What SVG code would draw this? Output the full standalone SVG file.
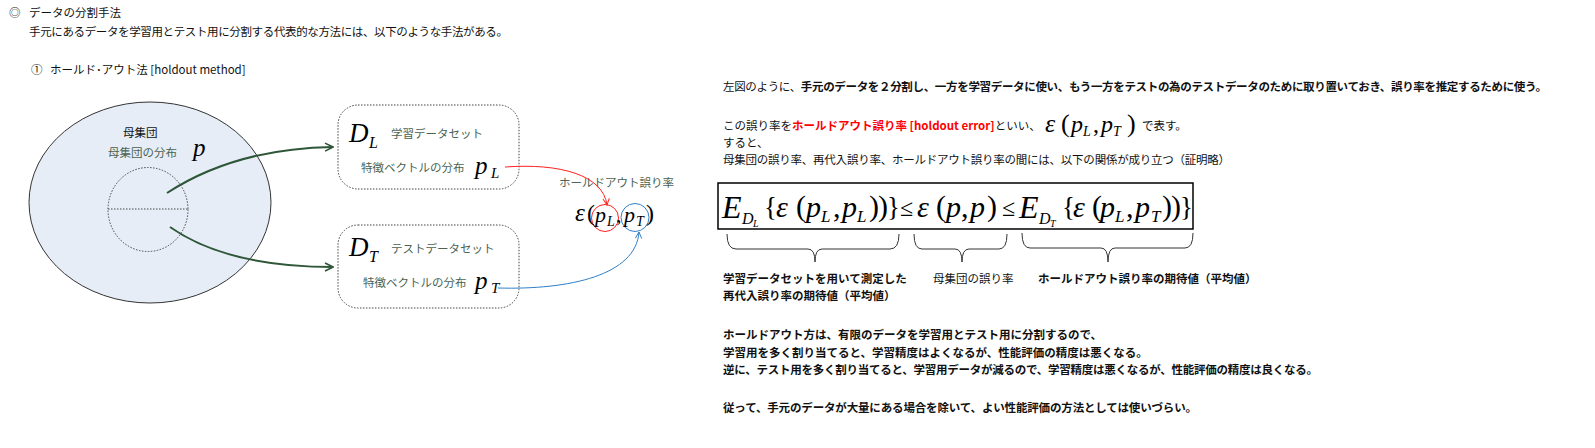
<svg xmlns="http://www.w3.org/2000/svg" width="1595" height="448" viewBox="0 0 1595 448">
<defs>
<style>
.jp{font-family:"Noto Sans CJK JP","Noto Sans",sans-serif;font-size:11.5px;fill:#111}
.b{font-weight:bold}
.g{fill:#4A6352}
.m{font-family:"Liberation Serif",serif;font-style:italic;fill:#000}
.r{font-family:"Liberation Serif",serif;fill:#000}
.dot{fill:none;stroke:#444;stroke-width:1;stroke-dasharray:1.5 1.5}
.br{fill:none;stroke:#333;stroke-width:1}
</style>
<marker id="ag" viewBox="0 0 10 10" refX="9" refY="5" markerWidth="10" markerHeight="10" markerUnits="userSpaceOnUse" orient="auto"><path d="M1,1 L9,5 L1,9" fill="none" stroke="#2E5638" stroke-width="1.6"/></marker>
<marker id="ar" viewBox="0 0 10 10" refX="9" refY="5" markerWidth="8" markerHeight="8" markerUnits="userSpaceOnUse" orient="auto"><path d="M1,1 L9,5 L1,9" fill="none" stroke="#FF2020" stroke-width="1.2"/></marker>
<marker id="ab" viewBox="0 0 10 10" refX="9" refY="5" markerWidth="8" markerHeight="8" markerUnits="userSpaceOnUse" orient="auto"><path d="M1,1 L9,5 L1,9" fill="none" stroke="#2F7FC8" stroke-width="1.2"/></marker>
</defs>
<rect width="1595" height="448" fill="#fff"/>

<g id="header">
<text class="jp" x="9" y="17" font-size="9">◎</text>
<text class="jp" x="29" y="17">データの分割手法</text>
<text class="jp" x="29" y="36" textLength="479" lengthAdjust="spacing">手元にあるデータを学習用とテスト用に分割する代表的な方法には、以下のような手法がある。</text>
<text class="jp" x="31" y="74">①</text>
<text class="jp" x="50" y="74">ホールド･アウト法 [holdout method]</text>
</g>

<g id="population">
<ellipse cx="150" cy="202.5" rx="121" ry="100.5" fill="#E7EDF7" stroke="#333" stroke-width="1"/>
<ellipse cx="148" cy="209.5" rx="40" ry="42" class="dot"/>
<line x1="108" y1="209" x2="188" y2="209" class="dot"/>
<text class="jp" x="123" y="137" font-size="14.5">母集団</text>
<text class="jp g" x="108" y="157" font-size="12">母集団の分布</text>
<text class="m" x="193" y="156" font-size="25">p</text>
</g>

<g id="dl">
<rect x="338" y="105" width="181" height="84" rx="20" class="dot"/>
<text class="m" x="349" y="142" font-size="27">D</text>
<text class="m" x="369" y="148" font-size="16">L</text>
<text class="jp g" x="391" y="138" font-size="12">学習データセット</text>
<text class="jp g" x="361" y="172" font-size="13">特徴ベクトルの分布</text>
<text class="m" x="475" y="174" font-size="25">p</text>
<text class="m" x="491" y="178" font-size="15">L</text>
</g>

<g id="dt">
<rect x="338" y="225" width="181" height="83" rx="20" class="dot"/>
<text class="m" x="349" y="256" font-size="27">D</text>
<text class="m" x="369" y="262" font-size="16">T</text>
<text class="jp g" x="391" y="253" font-size="12">テストデータセット</text>
<text class="jp g" x="363" y="287" font-size="13">特徴ベクトルの分布</text>
<text class="m" x="475" y="289" font-size="25">p</text>
<text class="m" x="491" y="293" font-size="15">T</text>
</g>

<g id="holdout">
<text class="jp g" x="559" y="187" font-size="12">ホールドアウト誤り率</text>
<circle cx="605" cy="218" r="13.5" fill="none" stroke="#FF2020" stroke-width="1"/>
<circle cx="635" cy="217.5" r="14" fill="none" stroke="#2F7FC8" stroke-width="1"/>
<text class="m" x="575" y="221" font-size="25">ε</text>
<text class="r" x="587" y="221" font-size="24">(</text>
<text class="m" x="595" y="222" font-size="22">p</text>
<text class="m" x="607" y="226" font-size="14">L</text>
<text class="r" x="616" y="222" font-size="22">,</text>
<text class="m" x="624" y="222" font-size="22">p</text>
<text class="m" x="636" y="226" font-size="14">T</text>
<text class="r" x="646" y="221" font-size="24">)</text>
</g>

<g id="connectors">
<path d="M167,193 C210,165 265,148 333,147" fill="none" stroke="#2E5638" stroke-width="2" marker-end="url(#ag)"/>
<path d="M170,227 C210,255 265,267 333,267" fill="none" stroke="#2E5638" stroke-width="2" marker-end="url(#ag)"/>
<path d="M505,167 C560,163 603,175 607,205" fill="none" stroke="#FF2020" stroke-width="1" marker-end="url(#ar)"/>
<path d="M498,288 C570,290 636,275 639,232" fill="none" stroke="#2F7FC8" stroke-width="1" marker-end="url(#ab)"/>
</g>

<g id="explanation">
<text class="jp" x="723" y="91" textLength="824" lengthAdjust="spacing">左図のように、<tspan class="b">手元のデータを２分割し、一方を学習データに使い、もう一方をテストの為のテストデータのために取り置いておき、誤り率を推定するために使う。</tspan></text>
<text class="jp" x="723" y="130">この誤り率を<tspan class="b" fill="#FF0000">ホールドアウト誤り率 [holdout error]</tspan>といい、</text>
<text class="m" x="1045" y="132" font-size="26">ε</text>
<text class="r" x="1061" y="132" font-size="26">(</text>
<text class="m" x="1071" y="132" font-size="24">p</text>
<text class="m" x="1083" y="136" font-size="14">L</text>
<text class="r" x="1093" y="132" font-size="24">,</text>
<text class="m" x="1101" y="132" font-size="24">p</text>
<text class="m" x="1113" y="136" font-size="14">T</text>
<text class="r" x="1127" y="132" font-size="26">)</text>
<text class="jp" x="1142" y="130">で表す。</text>
<text class="jp" x="723" y="147">すると、</text>
<text class="jp" x="723" y="164" textLength="507" lengthAdjust="spacing">母集団の誤り率、再代入誤り率、ホールドアウト誤り率の間には、以下の関係が成り立つ（証明略）</text>
</g>

<g id="formula">
<rect x="718" y="183" width="475" height="46" fill="none" stroke="#000" stroke-width="1.5"/>
<text class="m" x="722" y="218" font-size="32">E</text>
<text class="m" x="742" y="224" font-size="16">D</text>
<text class="m" x="753" y="227" font-size="10">L</text>
<text class="r" x="764" y="216" font-size="27">{</text>
<text class="m" x="776" y="217" font-size="30">ε</text>
<text class="r" x="796" y="216" font-size="30">(</text>
<text class="m" x="806" y="217" font-size="30">p</text>
<text class="m" x="821" y="222" font-size="17">L</text>
<text class="r" x="833" y="217" font-size="30">,</text>
<text class="m" x="842" y="217" font-size="30">p</text>
<text class="m" x="857" y="222" font-size="17">L</text>
<text class="r" x="869" y="216" font-size="30">)</text>
<text class="r" x="878" y="216" font-size="30">)</text>
<text class="r" x="887" y="216" font-size="27">}</text>
<text class="r" x="900" y="216" font-size="24">≤</text>
<text class="m" x="917" y="217" font-size="30">ε</text>
<text class="r" x="936" y="216" font-size="30">(</text>
<text class="m" x="946" y="217" font-size="30">p</text>
<text class="r" x="961" y="217" font-size="30">,</text>
<text class="m" x="970" y="217" font-size="30">p</text>
<text class="r" x="987" y="216" font-size="30">)</text>
<text class="r" x="1002" y="216" font-size="24">≤</text>
<text class="m" x="1019" y="218" font-size="32">E</text>
<text class="m" x="1039" y="224" font-size="16">D</text>
<text class="m" x="1050" y="227" font-size="10">T</text>
<text class="r" x="1062" y="216" font-size="27">{</text>
<text class="m" x="1073" y="217" font-size="30">ε</text>
<text class="r" x="1092" y="216" font-size="30">(</text>
<text class="m" x="1100" y="217" font-size="30">p</text>
<text class="m" x="1115" y="222" font-size="17">L</text>
<text class="r" x="1126" y="217" font-size="30">,</text>
<text class="m" x="1135" y="217" font-size="30">p</text>
<text class="m" x="1151" y="222" font-size="17">T</text>
<text class="r" x="1162" y="216" font-size="30">)</text>
<text class="r" x="1171" y="216" font-size="30">)</text>
<text class="r" x="1180" y="216" font-size="27">}</text>
</g>

<g id="braces">
<path class="br" d="M727,234 Q727,249 736,249 L808,249 Q815,249 815,262 Q815,249 822,249 L890,249 Q899,249 899,234"/>
<path class="br" d="M914,234 Q914,249 922,249 L955,249 Q962,249 962,262 Q962,249 969,249 L999,249 Q1007,249 1007,234"/>
<path class="br" d="M1022,233 Q1022,248 1030,248 L1101,248 Q1108,248 1108,262 Q1108,248 1115,248 L1185,248 Q1193,248 1193,233"/>
<text class="jp b" x="723" y="283">学習データセットを用いて測定した</text>
<text class="jp b" x="723" y="300">再代入誤り率の期待値（平均値）</text>
<text class="jp" x="933" y="283">母集団の誤り率</text>
<text class="jp b" x="1038" y="283">ホールドアウト誤り率の期待値（平均値）</text>
</g>

<g id="summary">
<text class="jp b" x="723" y="339">ホールドアウト方は、有限のデータを学習用とテスト用に分割するので、</text>
<text class="jp b" x="723" y="357">学習用を多く割り当てると、学習精度はよくなるが、性能評価の精度は悪くなる。</text>
<text class="jp b" x="723" y="374" textLength="595" lengthAdjust="spacing">逆に、テスト用を多く割り当てると、学習用データが減るので、学習精度は悪くなるが、性能評価の精度は良くなる。</text>
<text class="jp b" x="723" y="412" textLength="474" lengthAdjust="spacing">従って、手元のデータが大量にある場合を除いて、よい性能評価の方法としては使いづらい。</text>
</g>
</svg>
